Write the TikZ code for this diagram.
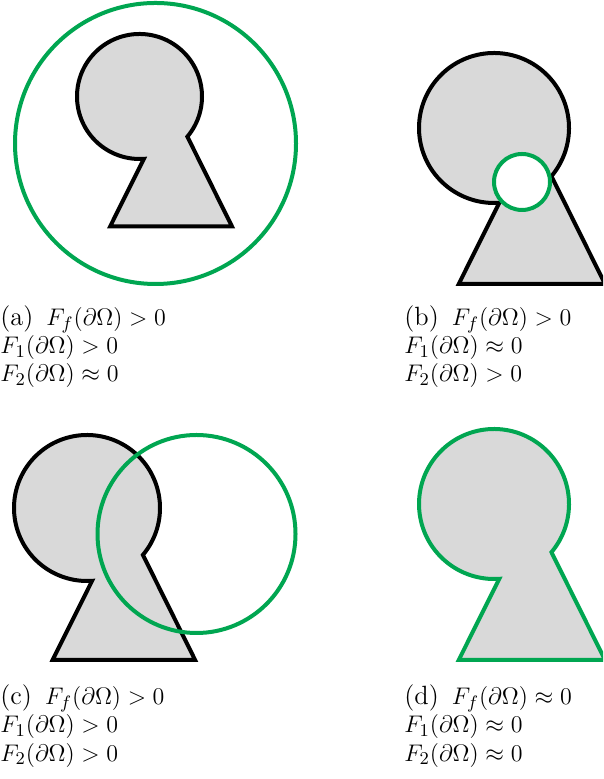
\documentclass[tikz,border=0pt]{standalone}
\usepackage{amsmath, amssymb}
\usepackage{tikz}
\usetikzlibrary{positioning}
\definecolor{probegreen}{RGB}{0,166,81}
\definecolor{keygray}{RGB}{217,217,217}

\begin{document}
\begin{tikzpicture}[
        x=0.5pt, y=0.5pt,
        hole/.style={draw=black, fill=keygray, line width=2pt},
        probe/.style={draw=probegreen, line width=2pt},
        subcap/.style={anchor=base west, inner sep=0pt, align=left, font=\fontsize{13.2}{14.1}\selectfont},
        keyhole/.pic={
            \path[pic actions] (-40:1) arc[start angle=-40, end angle=274, radius=1]
                -- (-0.47,-2.08) -- (1.48,-2.08) -- cycle;
        }
    ]
        \clip (0,0) rectangle (603,779);

        % (a) large circle around the whole shape
        \pic[hole, scale=62.5] at (139.5,682.5) {keyhole};
        \draw[probe] (155.5,635.5) circle[radius=140.5];
        \node[subcap] (capa) at (0,397) {(a)\ \,$F_f(\partial\Omega) > 0$\\ $F_1(\partial\Omega) > 0$\\ $F_2(\partial\Omega) \approx 0$};

        % (b) small circle at the notch
        \pic[hole, scale=75] at (494,651) {keyhole};
        \draw[probe, fill=white] (522,597) circle[radius=28];
        \node[subcap] (capb) at (404,397) {(b)\ \,$F_f(\partial\Omega) > 0$\\ $F_1(\partial\Omega) \approx 0$\\ $F_2(\partial\Omega) > 0$};

        % (c) circle overlapping one side
        \pic[hole, scale=73] at (87,271) {keyhole};
        \draw[probe] (196.5,245) circle[radius=99];
        \node[subcap] (capc) at (0,18) {(c)\ \,$F_f(\partial\Omega) > 0$\\ $F_1(\partial\Omega) > 0$\\ $F_2(\partial\Omega) > 0$};

        % (d) contour on the boundary
        \pic[hole, draw=probegreen, scale=75] at (494,275) {keyhole};
        \node[subcap] (capd) at (404,18) {(d)\ \,$F_f(\partial\Omega) \approx 0$\\ $F_1(\partial\Omega) \approx 0$\\ $F_2(\partial\Omega) \approx 0$};
    \end{tikzpicture}
\end{document}
